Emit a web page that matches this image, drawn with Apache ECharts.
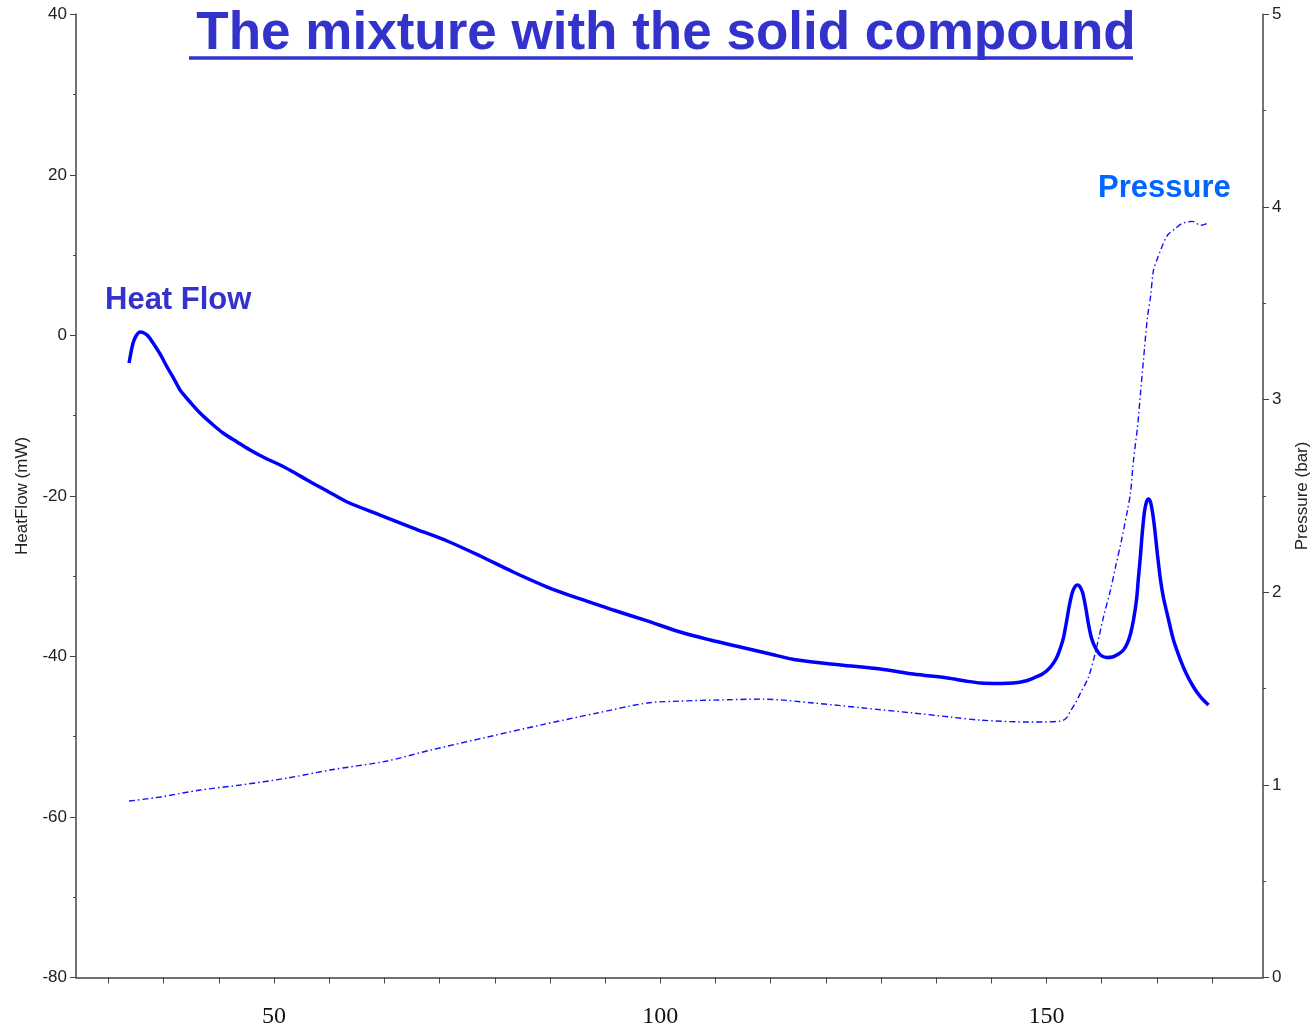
<!DOCTYPE html>
<html>
<head>
<meta charset="utf-8">
<title>The mixture with the solid compound</title>
<script src="https://cdn.jsdelivr.net/npm/echarts@6/dist/echarts.min.js"></script>
<style>
  html, body { margin: 0; padding: 0; background: #fff; }
  #chart { width: 1314px; height: 1027px; }
</style>
</head>
<body>
<div id="chart"></div>
<script>
// heat flow curve (temperature, mW)
const heatTemp = [31.22, 31.48, 31.74, 32.12, 32.64, 33.16, 33.68, 34.33, 35.23, 36.14,
  37.05, 37.82, 39.12, 40.41, 41.97, 43.39, 45.21, 46.89, 48.83, 50.78,
  52.72, 54.27, 56.87, 59.46, 63.73, 68.01, 72.41, 76.68, 80.96, 85.36,
  89.64, 93.91, 98.32, 102.59, 106.48, 110.36, 114.25, 117.75, 123.32, 128.50,
  132.77, 137.18, 139.51, 141.45, 144.04, 145.73, 147.28, 148.32, 149.48, 150.52,
  151.30, 151.81, 152.20, 152.59, 152.98, 153.37, 153.76, 154.02, 154.27, 154.66,
  155.05, 155.44, 155.83, 156.35, 156.99, 157.77, 158.55, 159.33, 159.97, 160.49,
  160.88, 161.27, 161.66, 161.92, 162.18, 162.44, 162.69, 162.95, 163.21, 163.47,
  163.73, 163.99, 164.38, 164.77, 165.16, 165.67, 166.45, 167.36, 168.13, 169.04,
  169.95, 170.98];
const heatFlow = [-3.44, -2.07, -0.95, -0.08, 0.42, 0.30, -0.08, -0.95, -2.32, -3.94,
  -5.44, -6.81, -8.30, -9.67, -11.04, -12.16, -13.28, -14.28, -15.28, -16.15,
  -17.15, -18.02, -19.39, -20.76, -22.38, -24.00, -25.62, -27.49, -29.48, -31.35,
  -32.84, -34.22, -35.58, -36.96, -37.95, -38.83, -39.70, -40.45, -41.07, -41.57,
  -42.20, -42.69, -43.06, -43.31, -43.37, -43.31, -43.06, -42.69, -42.20, -41.32,
  -40.19, -38.95, -37.70, -35.71, -33.59, -31.97, -31.22, -31.10, -31.22, -31.97,
  -33.72, -35.96, -37.70, -38.95, -39.82, -40.13, -40.07, -39.70, -39.20, -38.33,
  -37.20, -35.46, -32.97, -30.10, -27.36, -24.25, -22.00, -20.76, -20.38, -20.76,
  -22.00, -23.87, -27.36, -30.47, -32.72, -34.84, -37.95, -40.45, -42.20, -43.81,
  -45.05, -46.06];

// pressure curve (temperature, bar)
const pressTemp = [31.22, 35.23, 40.41, 45.60, 51.68, 57.25, 64.64, 70.21, 77.59, 84.46,
  91.84, 98.32, 102.59, 106.87, 113.34, 119.82, 126.30, 132.77, 137.56, 141.45,
  147.93, 151.81, 152.59, 153.11, 153.76, 154.40, 155.44, 156.35, 157.38, 158.29,
  158.94, 159.72, 160.49, 160.88, 161.27, 161.79, 162.18, 162.56, 163.08, 163.47,
  163.86, 164.38, 164.77, 165.67, 166.71, 167.62, 168.91, 169.95, 170.85];
const pressure = [0.916, 0.937, 0.973, 0.999, 1.035, 1.077, 1.124, 1.180, 1.248, 1.310,
  1.373, 1.425, 1.435, 1.440, 1.445, 1.425, 1.399, 1.373, 1.352, 1.336,
  1.326, 1.331, 1.347, 1.383, 1.425, 1.476, 1.559, 1.689, 1.871, 2.011,
  2.130, 2.270, 2.426, 2.514, 2.685, 2.857, 3.033, 3.204, 3.428, 3.531,
  3.671, 3.734, 3.775, 3.853, 3.889, 3.915, 3.925, 3.905, 3.915];

// x axis ticks (7 per 50 units) and labelled values
const xTicks = [28.57, 35.71, 42.86, 50, 57.14, 64.29, 71.43, 78.57, 85.71, 92.86, 100,
  107.14, 114.29, 121.43, 128.57, 135.71, 142.86, 150, 157.14, 164.29, 171.43];
const xLabels = [50, 100, 150];

const zip = (xs, ys) => xs.map((x, i) => [x, ys[i]]);

const axisGray = '#444';
const sans = "'Liberation Sans', Arial, sans-serif";

const chart = echarts.init(document.getElementById('chart'));

const option = {
  animation: false,
  backgroundColor: '#fff',
  title: {
    text: 'The mixture with the solid compound',
    left: 661,
    top: 3,
    textAlign: 'center',
    textStyle: {
      fontFamily: sans,
      fontSize: 53,
      fontWeight: 'bold',
      color: '#3333CC'
    }
  },
  grid: {
    left: 76,
    right: 51,
    top: 14.3,
    bottom: 49.5,
    containLabel: false,
    outerBoundsMode: 'none'
  },
  xAxis: {
    type: 'value',
    min: 24.35,
    max: 178.04,
    axisLine: { show: true, onZero: false, lineStyle: { color: axisGray, width: 1.5 } },
    axisTick: {
      show: true,
      length: 6,
      customValues: xTicks,
      lineStyle: { color: axisGray }
    },
    axisLabel: {
      customValues: xLabels,
      margin: 27,
      fontFamily: "'Liberation Serif', 'Times New Roman', serif",
      fontSize: 24,
      color: '#111'
    },
    splitLine: { show: false }
  },
  yAxis: [
    {
      type: 'value',
      position: 'left',
      min: -80,
      max: 40,
      interval: 20,
      name: 'HeatFlow (mW)',
      nameLocation: 'middle',
      nameRotate: 90,
      nameGap: 45,
      nameTextStyle: { fontFamily: sans, fontSize: 17, color: '#222' },
      axisLine: { show: true, onZero: false, lineStyle: { color: axisGray, width: 1.5 } },
      axisTick: { show: true, length: 6, lineStyle: { color: axisGray } },
      minorTick: { show: true, splitNumber: 2, length: 3, lineStyle: { color: axisGray } },
      axisLabel: { margin: 9, fontFamily: sans, fontSize: 17, color: '#222' },
      splitLine: { show: false }
    },
    {
      type: 'value',
      position: 'right',
      min: 0,
      max: 5,
      interval: 1,
      name: 'Pressure (bar)',
      nameLocation: 'middle',
      nameRotate: 90,
      nameGap: 31,
      nameTextStyle: { fontFamily: sans, fontSize: 17, color: '#222' },
      axisLine: { show: true, onZero: false, lineStyle: { color: axisGray, width: 1.5 } },
      axisTick: { show: true, length: 6, lineStyle: { color: axisGray } },
      minorTick: { show: true, splitNumber: 2, length: 3, lineStyle: { color: axisGray } },
      axisLabel: { margin: 9, fontFamily: sans, fontSize: 17, color: '#222' },
      splitLine: { show: false }
    }
  ],
  series: [
    {
      name: 'Heat Flow',
      type: 'line',
      yAxisIndex: 0,
      data: zip(heatTemp, heatFlow),
      smooth: 0.3,
      showSymbol: false,
      lineStyle: { color: '#0000FF', width: 3.5 }
    },
    {
      name: 'Pressure',
      type: 'line',
      yAxisIndex: 1,
      data: zip(pressTemp, pressure),
      smooth: 0.3,
      showSymbol: false,
      lineStyle: { color: '#1010FF', width: 1.4, type: [6, 3, 1.5, 3] }
    }
  ],
  graphic: [
    {
      // title underline
      type: 'line',
      shape: { x1: 189, y1: 58, x2: 1133, y2: 58 },
      style: { stroke: '#3333CC', lineWidth: 3.5 }
    },
    {
      type: 'text',
      left: 105,
      top: 285,
      style: {
        text: 'Heat Flow',
        font: "bold 31px 'Liberation Sans', Arial, sans-serif",
        fill: '#3333CC'
      }
    },
    {
      type: 'text',
      left: 1098,
      top: 173,
      style: {
        text: 'Pressure',
        font: "bold 31px 'Liberation Sans', Arial, sans-serif",
        fill: '#0066FF'
      }
    }
  ]
};

chart.setOption(option);
</script>
</body>
</html>
